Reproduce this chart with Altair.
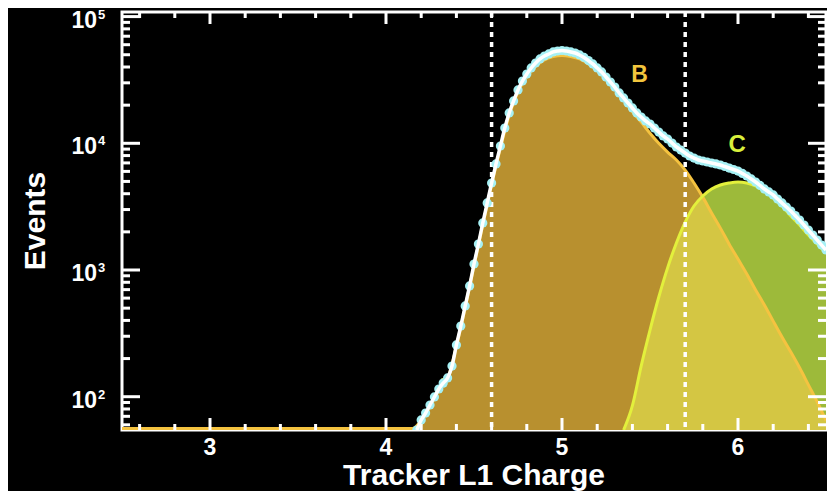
import altair as alt
import pandas as pd

# ---------------- data ----------------
# component B (orange) : x grid and counts
b_x = [2.5, 4.15, 4.2, 4.25, 4.3, 4.35, 4.4, 4.45, 4.5, 4.55, 4.6,
       4.65, 4.7, 4.75, 4.8, 4.85, 4.9, 4.95, 5.0, 5.05, 5.1,
       5.15, 5.2, 5.25, 5.3, 5.35, 5.4, 5.45, 5.5, 5.55, 5.6,
       5.65, 5.7, 5.75, 5.8, 5.85, 5.9, 5.95, 6.0, 6.05, 6.1,
       6.15, 6.2, 6.25, 6.3, 6.35, 6.4, 6.45, 6.5]
b_v = [56, 56, 65, 83, 113, 138, 250, 505, 1080, 2280, 4700,
       9200, 16600, 25500, 33500, 40500, 45400, 48400, 49300, 48400, 46300,
       42300, 37900, 32800, 27300, 22000, 17700, 14700, 12000, 10000, 8530,
       7380, 6150, 4860, 3760, 2820, 2140, 1600, 1220, 930, 695,
       530, 395, 296, 225, 169, 124, 91, 65]

# component C (green)
c_x = [5.35, 5.4, 5.45, 5.5, 5.55, 5.6, 5.65, 5.7, 5.75, 5.8, 5.85, 5.9,
       5.95, 6.0, 6.05, 6.1, 6.15, 6.2, 6.25, 6.3, 6.35, 6.4, 6.45, 6.5]
c_v = [48, 85, 175, 336, 612, 1040, 1635, 2390, 3200, 3840, 4360, 4690,
       4860, 4950, 4860, 4610, 4210, 3700, 3200, 2670, 2265, 1890, 1605, 1360]

# data points / total fit
t_x = [4.175, 4.2, 4.225, 4.25, 4.275, 4.3, 4.325, 4.35, 4.375, 4.4,
       4.425, 4.45, 4.475, 4.5, 4.525, 4.55, 4.575, 4.6, 4.625, 4.65,
       4.675, 4.7, 4.725, 4.75, 4.775, 4.8, 4.825, 4.85, 4.875, 4.9,
       4.925, 4.95, 4.975, 5.0, 5.025, 5.05, 5.075, 5.1, 5.125, 5.15,
       5.175, 5.2, 5.225, 5.25, 5.275, 5.3, 5.325, 5.35, 5.375, 5.4,
       5.425, 5.45, 5.475, 5.5, 5.525, 5.55, 5.575, 5.6, 5.625, 5.65,
       5.675, 5.7, 5.725, 5.75, 5.775, 5.8, 5.825, 5.85, 5.875, 5.9,
       5.925, 5.95, 5.975, 6.0, 6.025, 6.05, 6.075, 6.1, 6.125, 6.15,
       6.175, 6.2, 6.225, 6.25, 6.275, 6.3, 6.325, 6.35, 6.375, 6.4,
       6.425, 6.45, 6.475, 6.5]
t_v = [54.6, 65.5, 74.3, 86, 99.5, 115, 128, 140.6, 174.6, 256,
       361, 520, 748, 1115, 1604, 2350, 3380, 4860, 6870, 9520,
       13200, 17350, 21600, 26350, 31000, 35200, 39300, 43000, 46300, 48850,
       50700, 52600, 53500, 54000, 53500, 52600, 51600, 49800, 47600, 45000,
       42300, 39300, 36550, 33350, 30450, 27800, 24950, 22800, 20800, 19000,
       17350, 16130, 15000, 14200, 13200, 12270, 11430, 10810, 10050, 9350,
       8850, 8380, 7940, 7650, 7380, 7250, 7120, 6990, 6870, 6740,
       6560, 6380, 6210, 6040, 5780, 5520, 5230, 4950, 4650, 4360,
       4130, 3910, 3630, 3380, 3140, 2920, 2690, 2480, 2265, 2066,
       1888, 1722, 1573, 1438]

cut_x = [4.6, 5.7]

x_major = [3, 4, 5, 6]
x_minor = [2.6, 2.8, 3.2, 3.4, 3.6, 3.8, 4.2, 4.4, 4.6, 4.8,
           5.2, 5.4, 5.6, 5.8, 6.2, 6.4]
y_major = [100, 1000, 10000, 100000]
y_exp = ["2", "3", "4", "5"]
y_minor = [60, 70, 80, 90,
           200, 300, 400, 500, 600, 700, 800, 900,
           2000, 3000, 4000, 5000, 6000, 7000, 8000, 9000,
           20000, 30000, 40000, 50000, 60000, 70000, 80000, 90000]

labels_B = {"x": 5.44, "v": 34600, "t": "B"}
labels_C = {"x": 5.995, "v": 9700, "t": "C"}
labels_A = {"x": 4.327, "v": 117, "t": "A"}
x_title = "Tracker L1 Charge"
y_title = "Events"

# ---------------- frames ----------------
Y_MIN, Y_MAX = 54.6, 108700
W, H = 704, 418
FONT = "Liberation Sans"

dfB = pd.DataFrame({"x": b_x, "v": b_v})
dfC = pd.DataFrame({"x": c_x, "v": c_v})
b_lookup = dict(zip(b_x, b_v))
dfO = pd.DataFrame({"x": c_x, "v": [min(c, b_lookup[x]) for x, c in zip(c_x, c_v)]})
dfT = pd.DataFrame({"x": t_x, "v": t_v})

xs = alt.Scale(domain=[2.5, 6.5], nice=False, zero=False)
ys = alt.Scale(type="log", domain=[Y_MIN, Y_MAX], nice=False, clamp=True)

X = lambda: alt.X("x:Q", scale=xs, axis=None)
Yv = lambda: alt.Y("v:Q", scale=ys, axis=None)

txtA = alt.Chart(pd.DataFrame([labels_A])).mark_text(
    font=FONT, fontSize=23, fontWeight="bold", color="#F2C53D", baseline="middle"
).encode(x=X(), y=Yv(), text="t:N")

areaB = alt.Chart(dfB).mark_area(color="#B8902F", opacity=1, clip=True,
                                 interpolate="monotone").encode(
    x=X(), y=Yv(), y2=alt.datum(Y_MIN))
areaC = alt.Chart(dfC).mark_area(color="#9DBA3A", opacity=1, clip=True,
                                 interpolate="monotone").encode(
    x=X(), y=Yv(), y2=alt.datum(Y_MIN))
areaO = alt.Chart(dfO).mark_area(color="#D4C643", opacity=1, clip=True,
                                 interpolate="monotone").encode(
    x=X(), y=Yv(), y2=alt.datum(Y_MIN))

lineB = alt.Chart(dfB).mark_line(color="#F5C340", strokeWidth=3, clip=True,
                                 interpolate="monotone").encode(x=X(), y=Yv())
lineC = alt.Chart(dfC).mark_line(color="#E3F03C", strokeWidth=3, clip=True,
                                 interpolate="monotone").encode(x=X(), y=Yv())

cuts = alt.Chart(pd.DataFrame({"x": cut_x})).mark_rule(
    color="white", strokeWidth=3.5, strokeDash=[5, 5]).encode(x=X())

dots = alt.Chart(dfT).mark_circle(size=85, color="#A6F0F4", opacity=1, clip=True).encode(
    x=X(), y=Yv())
total = alt.Chart(dfT).mark_line(color="white", strokeWidth=3.5, clip=True,
                                 interpolate="monotone").encode(x=X(), y=Yv())

txtB = alt.Chart(pd.DataFrame([labels_B])).mark_text(
    font=FONT, fontSize=23, fontWeight="bold", color="#F2C53D", baseline="middle"
).encode(x=X(), y=Yv(), text="t:N")
txtC = alt.Chart(pd.DataFrame([labels_C])).mark_text(
    font=FONT, fontSize=24, fontWeight="bold", color="#D9F03C", baseline="middle"
).encode(x=X(), y=Yv(), text="t:N")

# ticks (inward)
dxM = pd.DataFrame({"x": x_major})
dxm = pd.DataFrame({"x": x_minor})
dyM = pd.DataFrame({"v": y_major, "e": y_exp, "b": ["10"] * 4})
dym = pd.DataFrame({"v": y_minor})

def xt(df, y0, y1):
    return alt.Chart(df).mark_rule(color="white", strokeWidth=3).encode(
        x=X(), y=alt.value(y0), y2=alt.value(y1))

def yt(df, x0, x1):
    return alt.Chart(df).mark_rule(color="white", strokeWidth=3).encode(
        y=Yv(), x=alt.value(x0), x2=alt.value(x1))

ticks = [
    xt(dxM, H, H - 12), xt(dxm, H, H - 6), xt(dxM, 0, 12), xt(dxm, 0, 6),
    yt(dyM, 0, 18), yt(dym, 0, 8), yt(dyM, W, W - 18), yt(dym, W, W - 8),
]

xlab = alt.Chart(dxM).mark_text(font=FONT, fontSize=23, fontWeight="bold",
                                color="white", baseline="alphabetic", align="center").encode(
    x=X(), y=alt.value(H + 25), text="x:Q")
ylab = alt.Chart(dyM).mark_text(font=FONT, fontSize=23, fontWeight="bold",
                                color="white", baseline="alphabetic", align="right",
                                dy=11).encode(
    y=Yv(), x=alt.value(-25), text="b:N")
yexp = alt.Chart(dyM).mark_text(font=FONT, fontSize=13, fontWeight="bold",
                                color="white", baseline="alphabetic", align="left",
                                dy=2).encode(
    y=Yv(), x=alt.value(-24), text="e:N")

xtitle = alt.Chart(pd.DataFrame({"t": [x_title]})).mark_text(
    font=FONT, fontSize=30, fontWeight="bold", color="white",
    baseline="alphabetic", align="center").encode(
    x=alt.value(W / 2), y=alt.value(H + 55), text="t:N")
ytitle = alt.Chart(pd.DataFrame({"t": [y_title]})).mark_text(
    font=FONT, fontSize=30, fontWeight="bold", color="white",
    baseline="alphabetic", align="center", angle=270).encode(
    x=alt.value(-77), y=alt.value(H / 2), text="t:N")

chart = alt.layer(
    txtA, areaB, areaC, areaO, lineB, lineC, cuts, dots, total,
    txtB, txtC, *ticks, xlab, ylab, yexp, xtitle, ytitle
).properties(
    width=W, height=H,
    autosize=alt.AutoSizeParams(type="none"),
    padding={"left": 114, "top": 4, "right": 1, "bottom": 61},
).configure(background="black").configure_view(stroke="white", strokeWidth=3)

chart.save("out.html", embed_options={"renderer": "svg", "actions": False})
